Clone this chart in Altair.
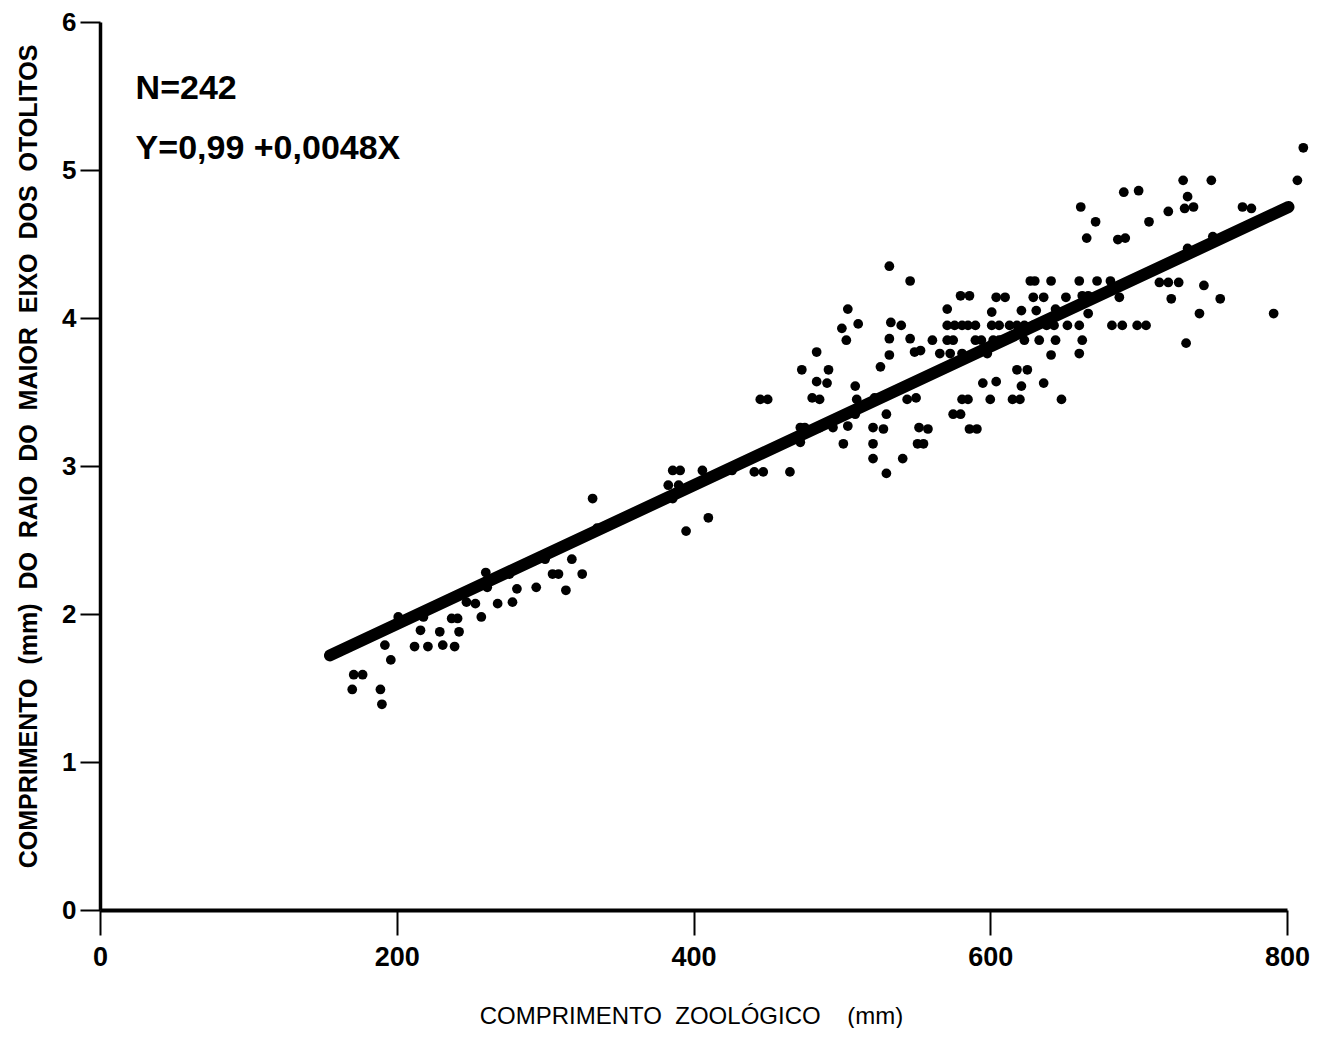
import altair as alt
import pandas as pd

# Scatter points (x: comprimento zoológico mm, y: raio do otólito mm)
xs = [170, 171, 177, 189, 190, 192, 196, 201, 212, 216, 218, 221, 229, 231, 237, 239, 241, 242,
      247, 253, 257, 260, 261, 268, 276, 278, 281, 294, 300, 305, 309, 314, 318, 325, 332, 335,
      383, 390, 386, 395, 410, 386, 391, 406, 426, 441, 447, 465,
      532, 546, 504, 500, 511, 533, 540, 503, 532, 546, 561, 483, 532, 549, 553, 473, 491, 526,
      483, 490, 445, 450, 480, 485, 509, 510, 522, 544, 550, 530, 509, 472, 475, 485, 494, 504,
      521, 528, 552, 558, 472, 501, 521, 551, 555, 521, 541, 530,
      730, 749, 807, 811, 690, 700, 733, 661, 720, 731, 737, 770, 776, 671, 707, 665, 686, 691,
      750, 733,
      627, 630, 641, 660, 672, 681, 714, 720, 727, 744,
      580, 586, 604, 610, 629, 636, 651, 662, 666, 687, 722, 755,
      571, 601, 621, 631, 644, 666, 741, 791,
      571, 576, 581, 585, 590, 601, 606, 613, 618, 623, 629, 638, 643, 652, 660, 682, 689, 699, 705,
      571, 575, 590, 594, 602, 606, 623, 633, 644, 662, 732,
      566, 573, 581, 598, 641, 660,
      618, 625,
      595, 604, 621, 636,
      581, 585, 600, 615, 620, 648,
      575, 580,
      586, 591]
ys = [1.49, 1.59, 1.59, 1.49, 1.39, 1.79, 1.69, 1.98, 1.78, 1.89, 1.98, 1.78, 1.88, 1.79, 1.97, 1.78, 1.97, 1.88,
      2.08, 2.07, 1.98, 2.28, 2.18, 2.07, 2.27, 2.08, 2.17, 2.18, 2.37, 2.27, 2.27, 2.16, 2.37, 2.27, 2.78, 2.58,
      2.87, 2.87, 2.78, 2.56, 2.65, 2.97, 2.97, 2.97, 2.97, 2.96, 2.96, 2.96,
      4.35, 4.25, 4.06, 3.93, 3.96, 3.97, 3.95, 3.85, 3.86, 3.86, 3.85, 3.77, 3.75, 3.77, 3.78, 3.65, 3.65, 3.67,
      3.57, 3.56, 3.45, 3.45, 3.46, 3.45, 3.54, 3.45, 3.46, 3.45, 3.46, 3.35, 3.35, 3.26, 3.26, 3.26, 3.26, 3.27,
      3.26, 3.25, 3.26, 3.25, 3.16, 3.15, 3.15, 3.15, 3.15, 3.05, 3.05, 2.95,
      4.93, 4.93, 4.93, 5.15, 4.85, 4.86, 4.82, 4.75, 4.72, 4.74, 4.75, 4.75, 4.74, 4.65, 4.65, 4.54, 4.53, 4.54,
      4.55, 4.47,
      4.25, 4.25, 4.25, 4.25, 4.25, 4.25, 4.24, 4.24, 4.24, 4.22,
      4.15, 4.15, 4.14, 4.14, 4.14, 4.14, 4.14, 4.15, 4.15, 4.14, 4.13, 4.13,
      4.06, 4.04, 4.05, 4.05, 4.06, 4.03, 4.03, 4.03,
      3.95, 3.95, 3.95, 3.95, 3.95, 3.95, 3.95, 3.95, 3.95, 3.95, 3.95, 3.95, 3.95, 3.95, 3.95, 3.95, 3.95, 3.95, 3.95,
      3.85, 3.85, 3.85, 3.85, 3.85, 3.85, 3.85, 3.85, 3.85, 3.85, 3.83,
      3.76, 3.76, 3.76, 3.76, 3.75, 3.76,
      3.65, 3.65,
      3.56, 3.57, 3.54, 3.56,
      3.45, 3.45, 3.45, 3.45, 3.45, 3.45,
      3.35, 3.35,
      3.25, 3.25]

# Regression line endpoints as drawn
line_x = [155, 801]
line_y = [1.72, 4.75]

# Annotations
ann_text = ["N=242", "Y=0,99 +0,0048X"]
ann_x = [24, 24]
ann_y = [5.55, 5.14]

x_ticks = [0, 200, 400, 600, 800]
y_ticks = [0, 1, 2, 3, 4, 5, 6]

pts = pd.DataFrame({"x": xs, "y": ys})
lin = pd.DataFrame({"x": line_x, "y": line_y})
ann = pd.DataFrame({"t": ann_text, "x": ann_x, "y": ann_y})

nb = "\u00a0"
sp2 = nb * 2
ytitle = sp2.join(["COMPRIMENTO", "(mm)", "DO", "RAIO", "DO", "MAIOR", "EIXO", "DOS", "OTOLITOS"])
xtitle = f"COMPRIMENTO{nb*2}ZOOLÓGICO{nb*4}(mm)"

xscale = alt.Scale(domain=[0, 800], nice=False, zero=False)
yscale = alt.Scale(domain=[0, 6], nice=False, zero=False)

xaxis = alt.Axis(values=x_ticks, format="d", title=xtitle, grid=False, tickSize=25, tickWidth=2,
                 tickColor="black", domainColor="black", domainWidth=4,
                 labelFont="Liberation Sans", labelFontSize=27, labelFontWeight="bold",
                 labelColor="black", labelPadding=9, labelFlush=False,
                 titleFont="Liberation Sans", titleFontSize=24, titleFontWeight="normal",
                 titleColor="black", titleX=591, titleY=106, titleBaseline="middle",
                 titleAlign="center")
yaxis = alt.Axis(values=y_ticks, format="d", title=ytitle, grid=False, tickSize=20, tickWidth=2,
                 tickColor="black", domainColor="black", domainWidth=3.5,
                 labelFont="Liberation Sans", labelFontSize=26, labelFontWeight="bold",
                 labelColor="black", labelPadding=4, labelFlush=False,
                 titleFont="Liberation Sans", titleFontSize=25, titleFontWeight="bold",
                 titleColor="black", titleX=-72, titleY=434, titleAngle=270,
                 titleBaseline="middle", titleAlign="center")

points = alt.Chart(pts).mark_circle(size=95, color="black", opacity=1).encode(
    x=alt.X("x:Q", scale=xscale, axis=xaxis),
    y=alt.Y("y:Q", scale=yscale, axis=yaxis),
)

line = alt.Chart(lin).mark_line(color="black", strokeWidth=12, strokeCap="round").encode(
    x=alt.X("x:Q", scale=xscale),
    y=alt.Y("y:Q", scale=yscale),
)

text = alt.Chart(ann).mark_text(align="left", baseline="middle", font="Liberation Sans",
                                fontSize=34, fontWeight="bold", color="black").encode(
    x=alt.X("x:Q", scale=xscale),
    y=alt.Y("y:Q", scale=yscale),
    text="t:N",
)

chart = alt.layer(points, line, text).properties(
    width=1187, height=888,
    autosize=alt.AutoSizeParams(type="none"),
    padding={"left": 92, "top": 14, "right": 30, "bottom": 118},
    background="white",
).configure_view(stroke=None)

chart.save("out.html", embed_options={"renderer": "svg", "actions": False})
